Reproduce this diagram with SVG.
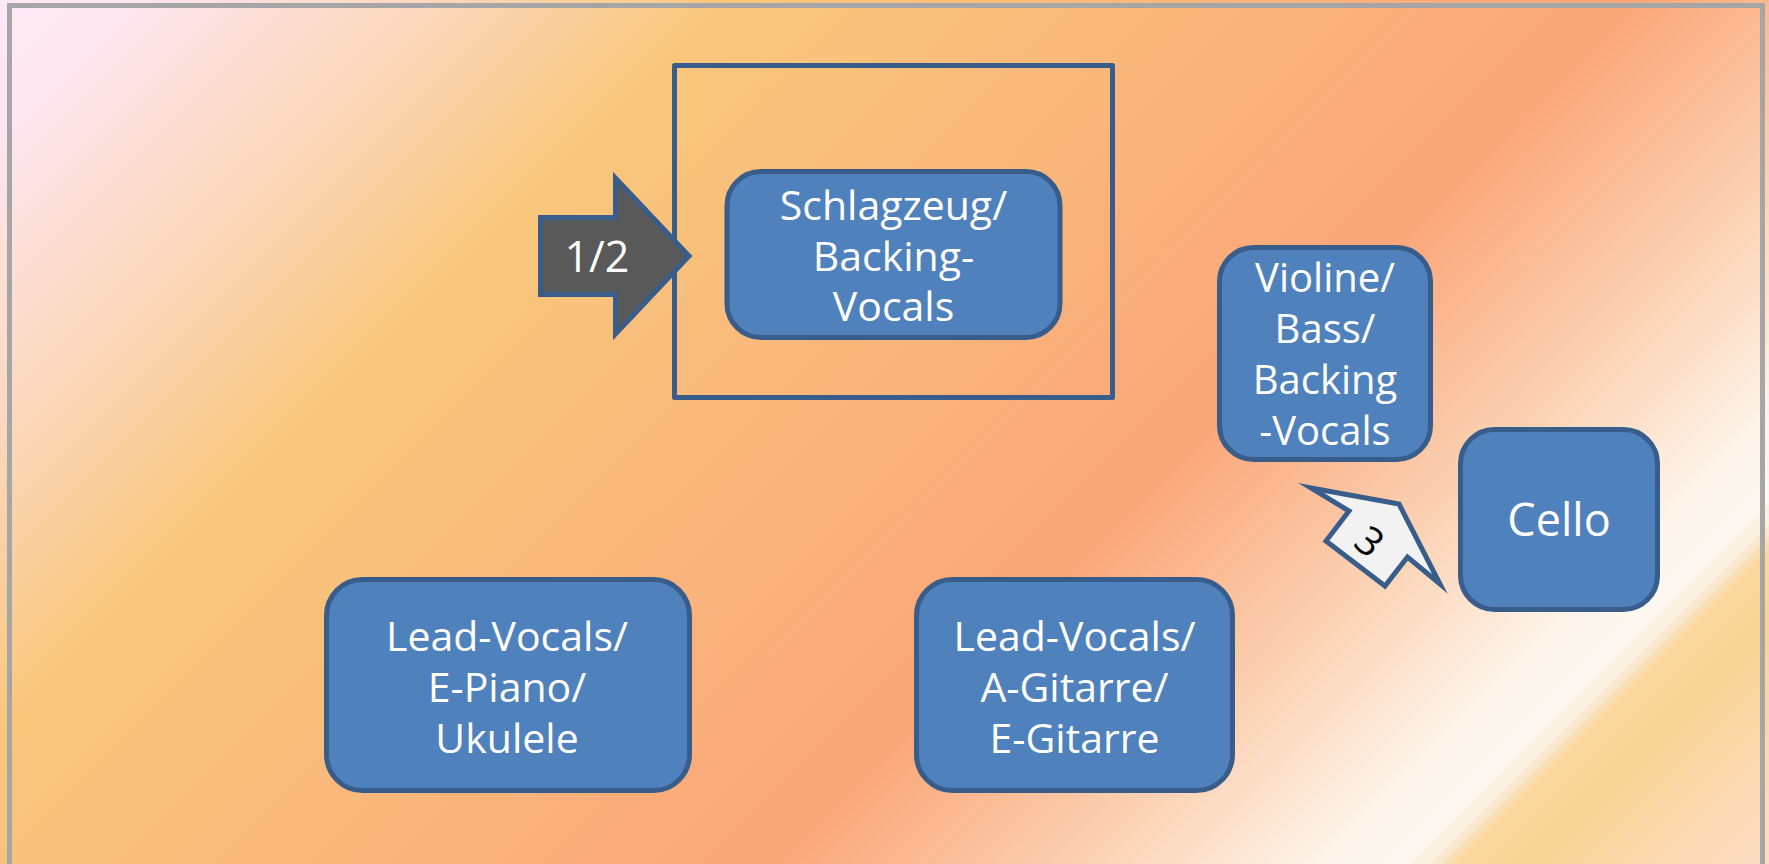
<svg xmlns="http://www.w3.org/2000/svg" width="1769" height="864" viewBox="0 0 1769 864">
  <defs>
    <linearGradient id="bg" gradientUnits="userSpaceOnUse" x1="0" y1="0" x2="1316.5" y2="1316.5">
      <stop offset="0" stop-color="#FDE9F6"/>
      <stop offset="0.05" stop-color="#FDE6F0"/>
      <stop offset="0.17" stop-color="#FBD7BA"/>
      <stop offset="0.277" stop-color="#F9C77C"/>
      <stop offset="0.42" stop-color="#F9BA7C"/>
      <stop offset="0.62" stop-color="#FAA679"/>
      <stop offset="0.74" stop-color="#FBD2B4"/>
      <stop offset="0.83" stop-color="#FDF4EA"/>
      <stop offset="0.863" stop-color="#FCF8F1"/>
      <stop offset="0.864" stop-color="#FAF1E1"/>
      <stop offset="0.871" stop-color="#FAF1E1"/>
      <stop offset="0.872" stop-color="#F9E8CF"/>
      <stop offset="0.875" stop-color="#F9E8CF"/>
      <stop offset="0.876" stop-color="#F9E1BA"/>
      <stop offset="0.882" stop-color="#FAD79C"/>
      <stop offset="0.91" stop-color="#FAD597"/>
      <stop offset="1" stop-color="#FCDCC6"/>
    </linearGradient>
  </defs>
  <style>
    .node { fill: #4F81BD; stroke: #385D8A; stroke-width: 5; }
    .lbl { font-family: "Open Sans", "Noto Sans", "DejaVu Sans", sans-serif; font-size: 41px; fill: #FFFFFF; text-anchor: middle; }
    .frame { fill: none; stroke: #385D8A; stroke-width: 5; stroke-linejoin: round; }
    .arrow { stroke: #385D8A; stroke-width: 5; stroke-linejoin: miter; stroke-miterlimit: 10; }
  </style>
  <rect x="0" y="0" width="1769" height="864" fill="url(#bg)"/>
  <rect x="9.5" y="5.5" width="1753" height="900" fill="none" stroke="#A6A6A6" stroke-width="5"/>

  <g id="group-frame">
    <rect class="frame" x="674.5" y="65.5" width="438" height="332"/>
  </g>

  <g id="node-schlagzeug">
    <rect class="node" x="727" y="171.5" width="333" height="166" rx="34" ry="34"/>
    <text class="lbl"><tspan x="893.5" y="220">Schlagzeug/</tspan><tspan x="893.5" y="270.5">Backing-</tspan><tspan x="893.5" y="321">Vocals</tspan></text>
  </g>

  <g id="node-violine">
    <rect class="node" x="1219.5" y="247.5" width="211" height="212" rx="34" ry="34"/>
    <text class="lbl" style="font-size:40px"><tspan x="1325" y="292">Violine/</tspan><tspan x="1325" y="343">Bass/</tspan><tspan x="1325" y="394">Backing</tspan><tspan x="1325" y="445">-Vocals</tspan></text>
  </g>

  <g id="node-cello">
    <rect class="node" x="1460.5" y="429.5" width="197" height="180" rx="34" ry="34"/>
    <text class="lbl" x="1559" y="536" style="font-size:45px">Cello</text>
  </g>

  <g id="node-lead-piano">
    <rect class="node" x="326.5" y="579.5" width="363" height="211" rx="36" ry="36"/>
    <text class="lbl"><tspan x="507" y="651">Lead-Vocals/</tspan><tspan x="507" y="702">E-Piano/</tspan><tspan x="507" y="753">Ukulele</tspan></text>
  </g>

  <g id="node-lead-gitarre">
    <rect class="node" x="916.5" y="579.5" width="316" height="211" rx="36" ry="36"/>
    <text class="lbl"><tspan x="1074.5" y="651">Lead-Vocals/</tspan><tspan x="1074.5" y="702">A-Gitarre/</tspan><tspan x="1074.5" y="753">E-Gitarre</tspan></text>
  </g>

  <g id="connectors">
    <g id="arrow-1-2">
      <polygon class="arrow" fill="#595959" points="540.5,217.5 615.5,217.5 615.5,178 689,256 615.5,334 615.5,294.5 540.5,294.5"/>
      <text class="lbl" x="597" y="272" style="font-size:43px">1/2</text>
    </g>
    <g id="arrow-3">
      <polygon class="arrow" fill="#F2F2F2" points="1311,488 1399,504 1440,584 1407.5,557 1385,586 1326,541 1349,511"/>
      <text transform="translate(1369.5,541.7) rotate(40)" x="0" y="14" font-family="Open Sans, Noto Sans, DejaVu Sans, sans-serif" font-size="40" fill="#000000" text-anchor="middle">3</text>
    </g>
  </g>
</svg>
